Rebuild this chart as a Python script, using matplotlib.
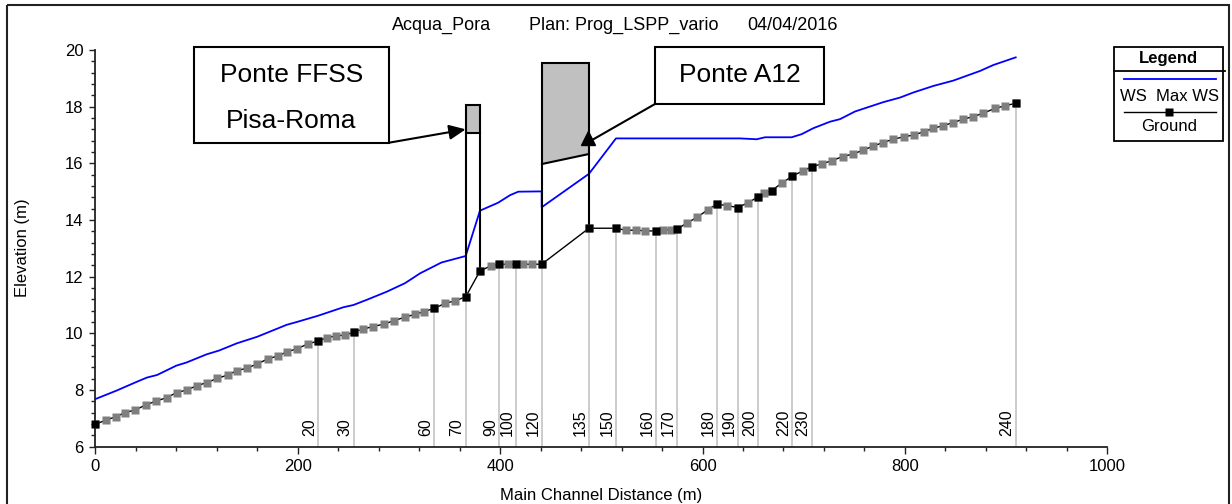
import numpy as np
import matplotlib
matplotlib.use('Agg')
from matplotlib import pyplot as plt
from matplotlib.patches import Rectangle, Polygon
from matplotlib.lines import Line2D
from matplotlib.ticker import MultipleLocator
from matplotlib.transforms import Affine2D

plt.rcParams['font.family'] = ['Liberation Sans', 'DejaVu Sans']

# ground profile along the main channel (distance m, elevation m), surveyed + interpolated sections
ground_dist = [0, 10.6, 20.5, 29.3, 39.5, 49.8, 60, 70.5, 80.4, 90.3, 100.2, 110, 120.5, 130.8,
               139.7, 149.6, 160.1, 170.4, 180.2, 189.7, 199.6, 210.2, 220.4, 229.3, 237.9, 247,
               255.6, 264.2, 274.7, 285.3, 295.5, 305.7, 316, 324.8, 335, 345.6, 355.7, 366,
               380.1, 390.7, 399.2, 408.1, 415.7, 422.9, 431.8, 441.1, 487.8, 514.2, 524.4,
               534.6, 543.5, 553.8, 561.3, 568.6, 574.5, 584.4, 594.9, 605.1, 614, 624.2, 634.8,
               645, 655.1, 660.8, 668.4, 678.3, 688.7, 699, 708, 717.8, 728.3, 738.5, 749,
               758.9, 768.8, 778, 788.5, 799.1, 809, 818.9, 828.1, 838, 847.8, 857.7, 867.6,
               877.5, 889, 898.9, 909.5]
ground_elev = [6.79, 6.94, 7.06, 7.20, 7.30, 7.47, 7.61, 7.73, 7.91, 8.00, 8.15, 8.26, 8.41, 8.53,
               8.68, 8.77, 8.92, 9.10, 9.20, 9.35, 9.46, 9.63, 9.73, 9.85, 9.91, 9.94,
               10.04, 10.15, 10.24, 10.33, 10.45, 10.57, 10.67, 10.77, 10.88, 11.06, 11.15, 11.29,
               12.20, 12.38, 12.44, 12.44, 12.44, 12.44, 12.44, 12.44, 13.71, 13.71, 13.64,
               13.64, 13.62, 13.61, 13.64, 13.66, 13.67, 13.89, 14.10, 14.36, 14.56, 14.51, 14.44,
               14.61, 14.82, 14.94, 15.04, 15.30, 15.55, 15.73, 15.88, 15.98, 16.10, 16.24, 16.33,
               16.47, 16.61, 16.73, 16.85, 16.94, 17.00, 17.12, 17.24, 17.33, 17.44, 17.56, 17.65,
               17.77, 17.94, 18.03, 18.12]

# surveyed cross sections and their river station labels
xs_dist = [0, 220.4, 255.6, 335, 366, 380.1, 399.2, 415.7, 441.1, 487.8, 514.2, 553.8,
           574.5, 614, 634.8, 655.1, 668.4, 688.7, 708, 909.5]
xs_label = ['', '20', '30', '60', '70', '', '90', '100', '120', '135', '150', '160',
            '170', '180', '190', '200', '', '220', '230', '240']

# max water surface profile
ws_dist = [0, 21, 39, 51, 61, 80, 90, 110, 122, 140, 160, 189, 199, 220, 245, 255, 268, 288,
           306, 321, 342, 366, 380.1, 398, 410, 418, 441.1, 441.1, 487.8, 514.5, 637, 653.5,
           661.8, 688.1, 698, 709.5, 726, 735.9, 750.7, 778.7, 795.1, 808.3, 828, 847.8,
           874.2, 887.4, 909.5]
ws_elev = [7.68, 7.98, 8.26, 8.44, 8.53, 8.86, 8.97, 9.26, 9.39, 9.65, 9.88, 10.30, 10.40,
           10.62, 10.92, 11.00, 11.18, 11.47, 11.77, 12.12, 12.50, 12.73, 14.33, 14.61, 14.88,
           15.00, 15.01, 14.45, 15.63, 16.88, 16.88, 16.85, 16.92, 16.92, 17.03, 17.24, 17.47,
           17.56, 17.83, 18.16, 18.32, 18.50, 18.73, 18.92, 19.26, 19.47, 19.74]

# bridges: upstream/downstream faces, deck top, low chord on each face
bridge_left = [366, 441.1]
bridge_right = [380.1, 487.8]
deck_top = [18.06, 19.55]
chord_left = [17.08, 15.98]
chord_right = [17.08, 16.33]

W, H = 1232, 504
fig = plt.figure(figsize=(W / 100, H / 100), dpi=100)
# pixel coordinates, origin top-left
px = Affine2D().scale(1 / W, -1 / H).translate(0, 1) + fig.transFigure

ax = fig.add_axes([95.3 / W, 1 - 446.7 / H, 1012 / W, 396.7 / H])
ax.set_xlim(0, 1000)
ax.set_ylim(6, 20)
for s in ['top', 'right']:
    ax.spines[s].set_visible(False)
for s in ['left', 'bottom']:
    ax.spines[s].set_linewidth(1.3)
    ax.spines[s].set_color('#222222')
ax.xaxis.set_major_locator(MultipleLocator(200))
ax.xaxis.set_minor_locator(MultipleLocator(40))
ax.yaxis.set_major_locator(MultipleLocator(2))
ax.yaxis.set_minor_locator(MultipleLocator(0.4))
ax.tick_params(which='both', direction='out', width=1, color='#222222', labelsize=12)
ax.tick_params(axis='x', which='major', length=5, pad=3.5)
ax.tick_params(axis='x', which='minor', length=3)
ax.tick_params(axis='y', which='major', length=4, pad=4.5)
ax.tick_params(axis='y', which='minor', length=3)

elev_at = dict(zip(ground_dist, ground_elev))

# section lines with station labels
for d, lab in zip(xs_dist, xs_label):
    if not lab:
        continue
    ax.plot([d, d], [6, elev_at[d]], color='#c8c8c8', lw=1.3, zorder=1)
    ax.annotate(lab, xy=(d, 6), xytext=(-0.8, 7.5), textcoords='offset points',
                rotation=90, ha='right', va='bottom', fontsize=11.5)

# water surface
ax.plot(ws_dist, ws_elev, color='#0000ff', lw=1.3, zorder=3)

# bridges
for L, R, top, cl, cr in zip(bridge_left, bridge_right, deck_top, chord_left, chord_right):
    ax.add_patch(Polygon([(L, cl), (L, top), (R, top), (R, cr)], closed=True,
                         facecolor='#c0c0c0', edgecolor='black', lw=1.5, zorder=4))
    ax.plot([L, L], [elev_at[L], cl], color='black', lw=1.5, zorder=4)
    ax.plot([R, R], [elev_at[R], cr], color='black', lw=1.5, zorder=4)

# ground line with interpolated and surveyed sections
ax.plot(ground_dist, ground_elev, color='black', lw=1, zorder=5)
ax.plot(ground_dist, ground_elev, ls='none', marker='s', ms=5.5, mfc='#7f7f7f', mec='none', zorder=6)
ax.plot(xs_dist, [elev_at[d] for d in xs_dist], ls='none', marker='s', ms=5.5,
        mfc='black', mec='none', zorder=7, clip_on=False)

# labels and title
fig.text(23, 248, 'Elevation (m)', transform=px, rotation=90, ha='center', va='center', fontsize=12)
fig.text(601, 500, 'Main Channel Distance (m)', transform=px, ha='center', va='baseline', fontsize=12)
fig.text(392, 30, 'Acqua_Pora', transform=px, ha='left', va='baseline', fontsize=13)
fig.text(529, 30, 'Plan: Prog_LSPP_vario', transform=px, ha='left', va='baseline', fontsize=13)
fig.text(747, 30, '04/04/2016', transform=px, ha='left', va='baseline', fontsize=13)

# outer frame
fig.add_artist(Rectangle((7, 5), 1222, 510, transform=px, fill=False, edgecolor='#222222', lw=1.5))

# bridge callouts
fig.add_artist(Rectangle((194, 46.7), 195, 96, transform=px, facecolor='white',
                         edgecolor='black', lw=1.5, zorder=10))
fig.text(291.5, 81.7, 'Ponte FFSS', transform=px, ha='center', va='baseline', fontsize=19, zorder=11)
fig.text(291.5, 128.3, 'Pisa-Roma', transform=px, ha='center', va='baseline', fontsize=19, zorder=11)
ax.annotate('', xy=(366, 17.2), xycoords='data', xytext=(389, 142.7), textcoords=px,
            arrowprops=dict(arrowstyle='-|>,head_length=1.0,head_width=0.45', color='black',
                            lw=1.5, shrinkA=0, shrinkB=0, mutation_scale=10), zorder=12)

fig.add_artist(Rectangle((655, 46.7), 169.3, 57.3, transform=px, facecolor='white',
                         edgecolor='black', lw=1.5, zorder=10))
fig.text(740, 81.7, 'Ponte A12', transform=px, ha='center', va='baseline', fontsize=19, zorder=11)
ax.annotate('', xy=(487.3, 16.75), xycoords='data', xytext=(655, 104), textcoords=px,
            arrowprops=dict(arrowstyle='-', color='black', lw=1.5, shrinkA=0, shrinkB=0), zorder=12)
ax.plot([487.3], [16.9], marker='^', ms=10, color='black', zorder=12)

# legend
fig.add_artist(Rectangle((1114.3, 47.3), 108.4, 93.4, transform=px, facecolor='white',
                         edgecolor='black', lw=1.3))
fig.add_artist(Line2D([1114.3, 1225], [70.7, 70.7], transform=px, color='black', lw=1.3))
fig.text(1168.5, 63, 'Legend', transform=px, ha='center', va='baseline', fontsize=12,
         fontweight='bold')
fig.add_artist(Line2D([1124, 1216], [79.3, 79.3], transform=px, color='#0000ff', lw=1.3))
fig.text(1169.5, 101, 'WS  Max WS', transform=px, ha='center', va='baseline', fontsize=12)
fig.add_artist(Line2D([1124, 1216], [111.7, 111.7], transform=px, color='black', lw=1))
fig.add_artist(Line2D([1169], [111.7], transform=px, marker='s', ms=5.5, color='black', mec='none'))
fig.text(1169.5, 131, 'Ground', transform=px, ha='center', va='baseline', fontsize=12)

fig.savefig('out.png', dpi=100)
